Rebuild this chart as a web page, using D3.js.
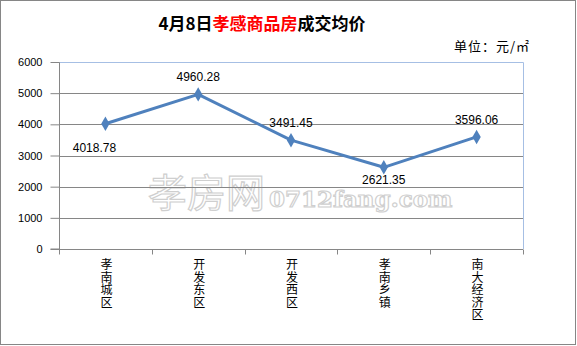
<!DOCTYPE html>
<html>
<head>
<meta charset="utf-8">
<script src="https://cdn.jsdelivr.net/npm/d3@7"></script>
<style>
  body { margin: 0; background: #fff; }
  svg { display: block; font-family: "Liberation Sans", "Noto Sans CJK SC", sans-serif; }
</style>
</head>
<body>
<div id="chart"></div>
<script>
// data
var districts = ['孝南城区', '开发东区', '开发西区', '孝南乡镇', '南大经济区'];
var prices = [4018.78, 4960.28, 3491.45, 2621.35, 3596.06];
var labelPos = ['belowLeft', 'above', 'above', 'below', 'above'];
var yTicks = [0, 1000, 2000, 3000, 4000, 5000, 6000];

var W = 577, H = 346;
var margin = {top: 62, right: 54, bottom: 97, left: 59};

// where each kind of data label sits relative to its point
var labelShift = {
    above: [0, -13],
    below: [0, 17],
    belowLeft: [-11, 28]
};

var svg = d3.select('#chart').append('svg')
    .attr('width', W)
    .attr('height', H);

svg.append('rect')
    .attr('x', 0.5).attr('y', 0.5)
    .attr('width', W - 2).attr('height', H - 2)
    .attr('fill', '#fff')
    .attr('stroke', '#868686');

// title
var title = svg.append('text')
    .attr('x', 262).attr('y', 30)
    .attr('text-anchor', 'middle')
    .style('font-size', '17px')
    .style('font-weight', 'bold')
    .style('font-family', '"Noto Sans CJK SC", sans-serif');
title.append('tspan').text('4月8日');
title.append('tspan').attr('fill', '#ff0000').text('孝感商品房');
title.append('tspan').text('成交均价');

svg.append('text')
    .attr('x', 530).attr('y', 51)
    .attr('text-anchor', 'end')
    .style('font-size', '13px')
    .style('letter-spacing', '1px')
    .style('font-family', '"Noto Sans CJK SC", sans-serif')
    .text('单位：元/㎡');

var width = W - margin.left - margin.right,
    height = H - margin.top - margin.bottom;

var x = d3.scaleBand()
    .domain(districts)
    .range([0, width]);

var y = d3.scaleLinear()
    .domain([0, 6000])
    .range([height, 0]);

var g = svg.append('g')
    .attr('transform', 'translate(' + margin.left + ',' + margin.top + ')');

// watermark
var wm = g.append('text')
    .attr('x', 89).attr('y', 145)
    .attr('fill', '#fff')
    .attr('stroke', '#cfcfcf')
    .attr('stroke-width', 1.2);
wm.append('tspan')
    .style('font-family', '"Noto Sans CJK SC", sans-serif')
    .style('font-size', '39px')
    .text('孝房网');
wm.append('tspan')
    .attr('dx', 4)
    .style('font-family', '"DejaVu Serif", serif')
    .style('font-size', '23px')
    .style('font-weight', 'bold')
    .text('0712fang.com');

// gridlines
g.append('g')
    .selectAll('line')
    .data(yTicks.filter(d => d > 0 && d < 6000))
    .join('line')
    .attr('x1', 0).attr('x2', width)
    .attr('y1', d => Math.round(y(d)) + 0.5)
    .attr('y2', d => Math.round(y(d)) + 0.5)
    .attr('stroke', '#868686');

// plot border (top/right)
g.append('path')
    .attr('d', 'M0,0.5H' + (width + 0.5) + 'V' + height)
    .attr('fill', 'none')
    .attr('stroke', '#a6bfe4');

// axes
var yAxis = g.append('g')
    .attr('transform', 'translate(0.5,0)')
    .call(d3.axisLeft(y).tickValues(yTicks).tickSize(9).tickPadding(8).tickFormat(d3.format('d')));
yAxis.selectAll('line, path').attr('stroke', '#868686');
yAxis.select('.domain').attr('d', 'M-9,' + height + 'H0V0.5');
yAxis.selectAll('text').style('font-size', '11px').attr('fill', '#000')
    .style('font-family', '"Liberation Sans", sans-serif');

var xAxis = g.append('g')
    .attr('transform', 'translate(0,' + (height + 0.5) + ')');
xAxis.append('line')
    .attr('x1', 0).attr('x2', width)
    .attr('stroke', '#868686');
xAxis.selectAll('.tick')
    .data(d3.range(districts.length + 1))
    .join('line')
    .attr('x1', i => Math.round(i * x.step()) + 0.5)
    .attr('x2', i => Math.round(i * x.step()) + 0.5)
    .attr('y1', 0).attr('y2', 5)
    .attr('stroke', '#868686');

// vertical category labels
xAxis.selectAll('text.cat')
    .data(districts)
    .join('text')
    .attr('class', 'cat')
    .attr('x', d => x(d) + x.bandwidth() / 2 + 1)
    .attr('y', 9)
    .style('writing-mode', 'vertical-rl')
    .style('text-orientation', 'upright')
    .style('letter-spacing', '0.6px')
    .style('font-size', '12px')
    .style('font-family', '"Noto Sans CJK SC", sans-serif')
    .text(d => d);

var pts = districts.map((d, i) => ({name: d, v: prices[i], pos: labelPos[i]}));

var line = d3.line()
    .x(d => x(d.name) + x.bandwidth() / 2)
    .y(d => y(d.v));

g.append('path')
    .datum(pts)
    .attr('d', line)
    .attr('fill', 'none')
    .attr('stroke', '#4f81bd')
    .attr('stroke-width', 3)
    .attr('stroke-linejoin', 'round');

g.selectAll('.mark')
    .data(pts)
    .join('path')
    .attr('class', 'mark')
    .attr('d', d3.symbol(d3.symbolDiamond, 60))
    .attr('transform', d => 'translate(' + (x(d.name) + x.bandwidth() / 2) + ',' + y(d.v) + ')')
    .attr('fill', '#4f81bd');

g.selectAll('.lbl')
    .data(pts)
    .join('text')
    .attr('class', 'lbl')
    .attr('x', d => x(d.name) + x.bandwidth() / 2 + labelShift[d.pos][0])
    .attr('y', d => y(d.v) + labelShift[d.pos][1])
    .attr('text-anchor', 'middle')
    .style('font-size', '12px')
    .style('font-family', '"Liberation Sans", sans-serif')
    .text(d => d.v.toFixed(2));
</script>
</body>
</html>
